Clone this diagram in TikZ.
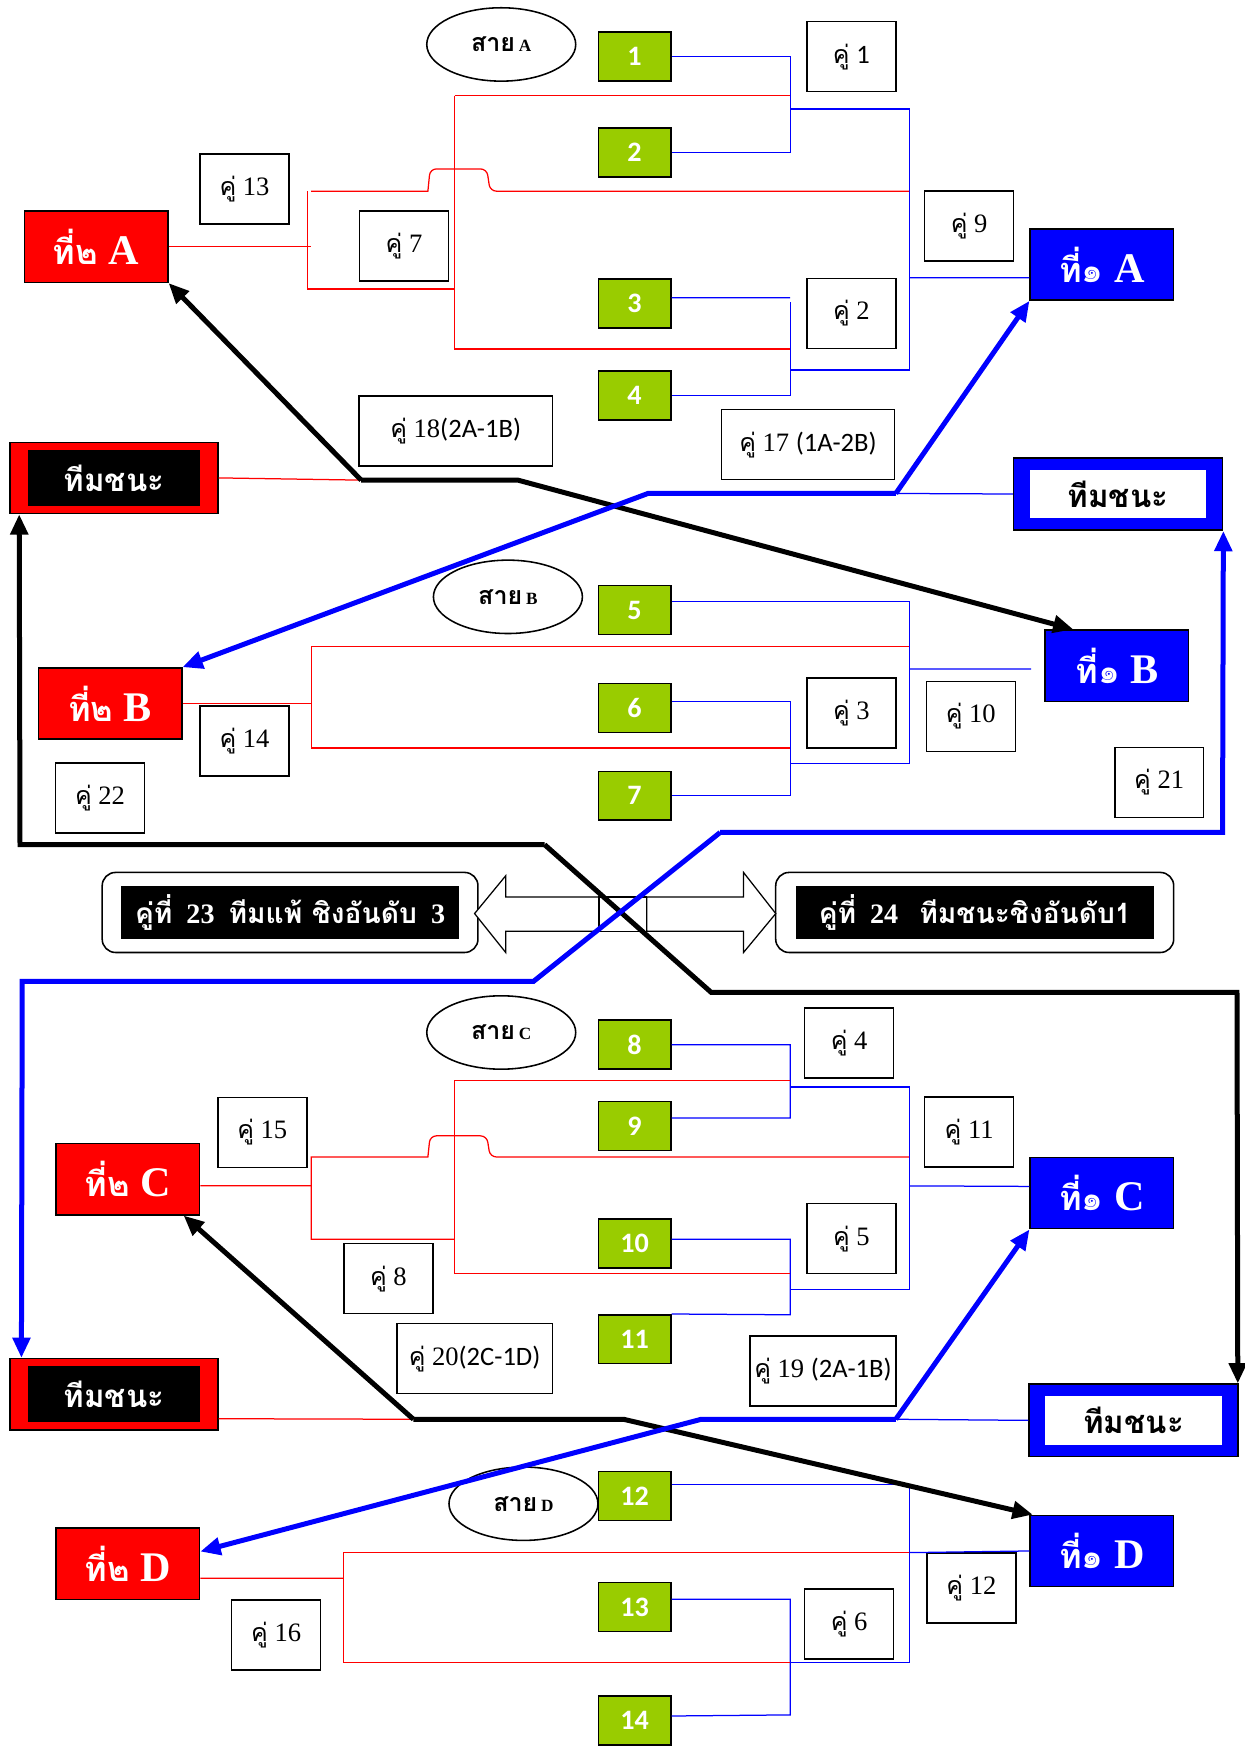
\documentclass[tikz,border=0pt]{standalone}
\usepackage{fontspec}
\setmainfont{Liberation Serif}
\newfontfamily\thai[Script=Thai]{Loma}
\newfontfamily\calfont{Carlito}
\usetikzlibrary{shapes.geometric,arrows.meta}
\definecolor{seedgreen}{RGB}{153,204,0}
\newcommand\kuu{{\thai\fontsize{16}{16}\selectfont คู่}\ }
\newcommand\zonetext[1]{{\thai\bfseries\fontsize{16}{16}\selectfont สาย}\ {\bfseries\fontsize{11}{11}\selectfont #1}}
\newcommand\place[2]{{\thai\fontsize{22}{22}\selectfont ที่#1}\ #2}
\tikzset{
	seed/.style={draw,line width=1pt,fill=seedgreen,minimum width=1.625cm,minimum height=1.1cm,inner sep=0pt,text=white,font=\calfont\bfseries\fontsize{18}{18}\selectfont},
	pair/.style={draw,line width=1pt,fill=white,minimum width=2cm,minimum height=1.575cm,inner sep=0pt,font=\fontsize{17}{17}\selectfont},
	zone/.style={ellipse,draw,line width=1pt,minimum width=3.35cm,minimum height=1.65cm,inner sep=0pt},
	second/.style={draw,line width=1pt,fill=red,minimum width=3.225cm,minimum height=1.6cm,inner sep=0pt,text=white,font=\bfseries\fontsize{27}{27}\selectfont},
	first/.style={draw,line width=1pt,fill=blue,minimum width=3.225cm,minimum height=1.6cm,inner sep=0pt,text=white,font=\bfseries\fontsize{27}{27}\selectfont},
	winred/.style={draw,line width=1pt,fill=red,minimum width=4.675cm,minimum height=1.6cm,inner sep=0pt},
	winblack/.style={fill=black,minimum width=3.875cm,minimum height=1.25cm,inner sep=0pt,text=white,font=\thai\bfseries\fontsize{20}{20}\selectfont},
	winblue/.style={draw,line width=1pt,fill=blue,minimum width=4.7cm,minimum height=1.625cm,inner sep=0pt},
	winwhite/.style={fill=white,minimum width=3.975cm,minimum height=1.1cm,inner sep=0pt,font=\thai\bfseries\fontsize{20}{20}\selectfont},
	final/.style={draw,line width=1pt,fill=white,rounded corners=0.3cm,minimum height=1.8cm,inner sep=0pt},
	finaltext/.style={fill=black,minimum height=1.2cm,inner sep=0pt,text=white,font=\bfseries\fontsize{18}{18}\selectfont},
	bline/.style={blue,line width=0.8pt},
	rline/.style={red,line width=0.8pt},
	bpath/.style={blue,line width=3.2pt,-{Triangle[length=13pt,width=11pt]}},
	kpath/.style={black,line width=3.2pt,-{Triangle[length=13pt,width=11pt]}},
	bigarrow/.style={draw,line width=0.8pt,fill=white}
}
\begin{document}
\begin{tikzpicture}[x=0.025cm,y=-0.025cm]
	\useasboundingbox (0,0) rectangle (1120,1571);

	\node [zone] (zA) at (451,40) {\zonetext{A}};
	\node [zone] (zB) at (457,537) {\zonetext{B}};
	\node [zone] (zC) at (451,929) {\zonetext{C}};
	\node [zone] (zD) at (471,1353) {\zonetext{D}};

	\node [seed] (s1) at (571,51) {1};
	\node [seed] (s2) at (571,137) {2};
	\node [seed] (s3) at (571,273) {3};
	\node [seed] (s4) at (571,356) {4};
	\node [seed] (s5) at (571,549) {5};
	\node [seed] (s6) at (571,637) {6};
	\node [seed] (s7) at (571,716) {7};
	\node [seed] (s8) at (571,940) {8};
	\node [seed] (s9) at (571,1013) {9};
	\node [seed] (s10) at (571,1119) {10};
	\node [seed] (s11) at (571,1205) {11};
	\node [seed] (s12) at (571,1346) {12};
	\node [seed] (s13) at (571,1446) {13};
	\node [seed] (s14) at (571,1548) {14};

	\node [second] (p2A) at (86.5,222) {\place{๒}{A}};
	\node [first] (p1A) at (991.5,238) {\place{๑}{A}};
	\node [second] (p2B) at (99,633) {\place{๒}{B}};
	\node [first] (p1B) at (1005,599) {\place{๑}{B}};
	\node [second] (p2C) at (115,1061) {\place{๒}{C}};
	\node [first] (p1C) at (991.5,1073.5) {\place{๑}{C}};
	\node [second] (p2D) at (115,1407) {\place{๒}{D}};
	\node [first] (p1D) at (991.5,1395.5) {\place{๑}{D}};

	\node [winred] (winL1) at (102.5,430) {};
	\node [winblack] at (winL1) {ทีมชนะ};
	\node [winblue] (winR1) at (1006,444.5) {};
	\node [winwhite] at (winR1) {ทีมชนะ};
	\node [winred] (winL2) at (102.5,1254.5) {};
	\node [winblack] at (winL2) {ทีมชนะ};
	\node [winblue] (winR2) at (1020,1278) {};
	\node [winwhite] at (winR2) {ทีมชนะ};

	\node [pair] (m1) at (766,51) {\kuu{\calfont 1}};
	\node [pair] (m13) at (220,170) {\kuu 13};
	\node [pair] (m7) at (363.5,221.5) {\kuu 7};
	\node [pair] (m9) at (872,203.5) {\kuu 9};
	\node [pair] (m2) at (766,282) {\kuu 2};
	\node [pair,minimum width=4.35cm] (m18) at (410,388) {\kuu 18{\calfont(2A-1B)}};
	\node [pair,minimum width=3.9cm] (m17) at (727,400) {\kuu 17 {\calfont(1A-2B)}};
	\node [pair] (m14) at (220,666.5) {\kuu 14};
	\node [pair] (m22) at (90,718) {\kuu 22};
	\node [pair] (m3) at (766,641.5) {\kuu 3};
	\node [pair] (m10) at (873.5,644.5) {\kuu 10};
	\node [pair] (m21) at (1043,704) {\kuu 21};
	\node [pair] (m4) at (764,938.5) {\kuu 4};
	\node [pair] (m15) at (236,1019) {\kuu 15};
	\node [pair] (m11) at (872,1018.5) {\kuu 11};
	\node [pair] (m5) at (766,1114.5) {\kuu 5};
	\node [pair] (m8) at (349.5,1150.5) {\kuu 8};
	\node [pair,minimum width=3.5cm] (m20) at (427,1222.5) {\kuu 20{\calfont(2C-1D)}};
	\node [pair,minimum width=3.275cm] (m19) at (740.5,1233.5) {\kuu 19 {\calfont(2A-1B)}};
	\node [pair] (m16) at (248.5,1471) {\kuu 16};
	\node [pair] (m6) at (764,1461) {\kuu 6};
	\node [pair] (m12) at (874,1429) {\kuu 12};

	\node [final,minimum width=8.45cm] (f23) at (261,821) {};
	\node [finaltext,minimum width=7.6cm] at (f23) {{\thai คู่ที่}\ \ 23\ \ {\thai ทีมแพ้ ชิงอันดับ}\ \ 3};
	\node [final,minimum width=8.95cm] (f24) at (877,821) {};
	\node [finaltext,minimum width=8.05cm] at (f24) {{\thai คู่ที่}\ \ 24\ \ \ {\thai ทีมชนะชิงอันดับ1}};

	\draw [bigarrow] (427,822) -- (455,788) -- (455,807) -- (539,807) -- (539,838) -- (455,838) -- (455,857) -- cycle;
	\draw [bigarrow] (539,807) rectangle (582,838);
	\draw [bigarrow] (582,807) -- (669,807) -- (669,785) -- (698,822) -- (669,857) -- (669,838) -- (582,838) -- cycle;

	\draw [bline] (s1.east) -| (711,137) -- (s2.east);
	\draw [bline] (711,98) -| (818,333) -- (711,333);
	\draw [bline] ([yshift=.125cm]s3.east) -- (711,268);
	\draw [bline] (711,272) |- (s4.east);
	\draw [bline] (818,250) -- ([yshift=-.3cm]p1A.west);
	\draw [rline] (409,86) -- (711,86);
	\draw [rline] (409,86) |- (711,314);
	\draw [rline] (p2A.east) -- (280,222);
	\draw [rline] (277,172) |- (409,260);
	\draw [rline] (280,172) -- (385,172) [rounded corners=4pt] -- (387,152) -- (438,152) -- (441,172) [sharp corners] -- (818,172);

	\draw [bline] ([yshift=.2cm]s5.east) -| (818,687) -- (711,687);
	\draw [bline] ([yshift=.15cm]s6.east) -| (711,716) -- (s7.east);
	\draw [bline] (818,602) -- ([xshift=-.3cm,yshift=-.075cm]p1B.west);
	\draw [rline] (p2B.east) -- (280,633);
	\draw [rline] (818,582) -| (280,673) -- (711,673);

	\draw [bline] (s8.east) -| (711,1006) -- ([yshift=.175cm]s9.east);
	\draw [bline] (711,978) -| (818,1160) -- (711,1160);
	\draw [bline] ([yshift=.1cm]s10.east) -| (711,1183) -- (s11.north east);
	\draw [bline] (818,1067) -- ([yshift=.15cm]p1C.west);
	\draw [rline] (409,972) -- (711,972);
	\draw [rline] (409,972) |- (711,1146);
	\draw [rline] ([yshift=-.15cm]p2C.east) -- (280,1067);
	\draw [rline] (409,1115) -| (280,1041) -- (385,1041) [rounded corners=4pt] -- (387,1022) -- (438,1022) -- (441,1041) [sharp corners] -- (818,1041);

	\draw [bline] ([yshift=.25cm]s12.east) -| (818,1496) -- (711,1496);
	\draw [bline] ([yshift=.175cm]s13.east) -| (711,1543) -- ([yshift=.1cm]s14.east);
	\draw [bline] (818,1397) -- (p1D.west);
	\draw [rline] ([yshift=-.325cm]p2D.east) -- (309,1420);
	\draw [rline] (818,1397) -| (309,1496) -- (711,1496);

	\coordinate (j18) at (325,432);
	\coordinate (j17) at (806,444);
	\coordinate (j20) at (372,1277);
	\coordinate (j19) at (806,1277);
	\draw [rline] (winL1.east) -- (j18);
	\draw [kpath] (j18) -- (p2A.south east);
	\draw [kpath] (j18) -- (466,432) -- ([xshift=.65cm]p1B.north west);
	\draw [bline] (j17) -- (winR1.west);
	\draw [bpath] (j17) -- (p1A.south west);
	\draw [bpath] (j17) -- (583,444) -- (p2B.north east);

	\draw [kpath] (490,760) -- (18,760) -- ([xshift=.225cm]winL1.south west);
	\draw [kpath] (490,760) -- (640,893) -- (1113,893) -- ([xshift=-.025cm]winR2.north east);
	\draw [bpath] (648,749) -- (1100,749) -- (winR1.south east);
	\draw [bpath] (648,749) -- (480,883) -- (20,883) -- ([xshift=.275cm]winL2.north west);

	\draw [rline] ([yshift=-.55cm]winL2.east) -- (j20);
	\draw [kpath] (j20) -- ([xshift=-.375cm]p2C.south east);
	\draw [kpath] (j20) -- (561,1277) -- ([xshift=.075cm]p1D.north west);
	\draw [bline] (j19) -- (winR2.west);
	\draw [bpath] (j19) -- (p1C.south west);
	\draw [bpath] (j19) -- (631,1277) -- ([yshift=.275cm]p2D.east);
\end{tikzpicture}
\end{document}
